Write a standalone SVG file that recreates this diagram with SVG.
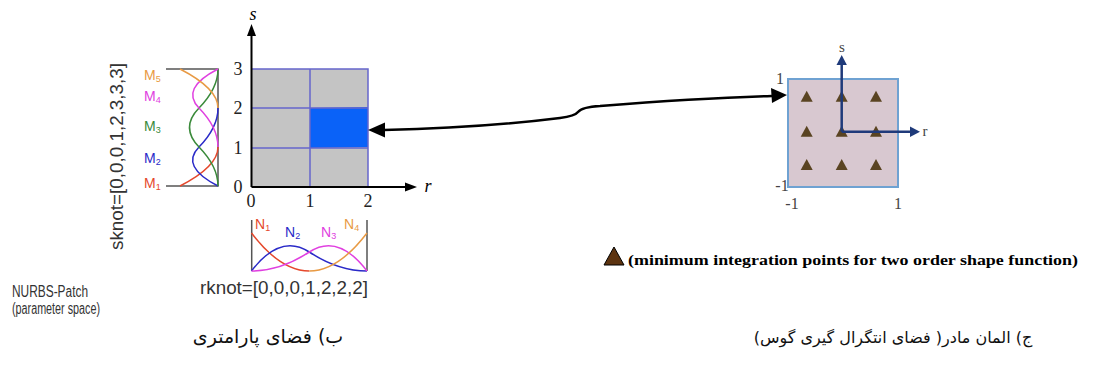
<svg xmlns="http://www.w3.org/2000/svg" width="1102" height="369" viewBox="0 0 1102 369">
<style>
.serif{font-family:"Liberation Serif","Times New Roman",serif}
.sans{font-family:"Liberation Sans",Arial,sans-serif}
.ar{font-family:"DejaVu Sans","Noto Sans",sans-serif;fill:#111}
.tick{font-size:18px;fill:#222}
.gl{stroke:#6666cc;stroke-width:1.5;fill:none}
.bx{stroke:#555;stroke-width:1.5;fill:none}
.cv{fill:none;stroke-width:1.5}
.tri{fill:#5a4422}
.pel{font-size:16px;fill:#444}
.ax2{stroke:#1f3a7a;stroke-width:2.5;fill:none}
</style>
<rect width="1102" height="369" fill="#fff"/>

<g id="patch">
<rect x="251" y="69" width="117" height="118" fill="#c4c4c4"/>
<path d="M310,108 L368,107 L368,147 L310,148 Z" fill="#0a62f8"/>
<path class="gl" d="M251,69 H368 V187 M310,69 V187 M251,108 H368 M251,148 H368"/>
<path d="M251.5,187 V33 M251.5,187 H408" stroke="#000" stroke-width="2" fill="none"/>
<polygon points="251.5,24 247,36 256,36" fill="#000"/>
<polygon points="417,187 405,182.5 405,191.5" fill="#000"/>
<text class="serif" x="253" y="20" font-size="18" font-style="italic" text-anchor="middle">s</text>
<text class="serif" x="428" y="192" font-size="18" font-style="italic" text-anchor="middle">r</text>
<g class="serif tick" text-anchor="middle">
<text x="238" y="75">3</text>
<text x="238" y="114">2</text>
<text x="238" y="154">1</text>
<text x="238" y="193">0</text>
<text x="251" y="207">0</text>
<text x="310" y="207">1</text>
<text x="368" y="207">2</text>
</g>
</g>

<g id="m-basis">
<path class="bx" d="M166,69 H218 V186 H166"/>
<path class="cv" stroke="#e5482c" d="M180,186 Q218,166.5 218,147"/>
<path class="cv" stroke="#2a2ac8" d="M218,186 Q180,166.5 199,147 Q218,127.5 218,108"/>
<path class="cv" stroke="#3a8a3a" d="M218,186 Q218,166.5 199,147 Q180,127.5 199,108 Q218,88.5 218,69"/>
<path class="cv" stroke="#e040e0" d="M218,147 Q218,127.5 199,108 Q180,88.5 218,69"/>
<path class="cv" stroke="#e89a44" d="M218,108 Q218,88.5 180,69"/>
<g class="sans" font-size="14">
<text x="144" y="80" fill="#e89a44">M<tspan font-size="9" dy="2">5</tspan></text>
<text x="144" y="101" fill="#e040e0">M<tspan font-size="9" dy="2">4</tspan></text>
<text x="144" y="131" fill="#3a8a3a">M<tspan font-size="9" dy="2">3</tspan></text>
<text x="144" y="163" fill="#2a2ac8">M<tspan font-size="9" dy="2">2</tspan></text>
<text x="144" y="188" fill="#e5482c">M<tspan font-size="9" dy="2">1</tspan></text>
</g>
<text class="sans" transform="translate(123,250) rotate(-90)" font-size="18" fill="#333" textLength="187" lengthAdjust="spacingAndGlyphs">sknot=[0,0,0,1,2,3,3,3]</text>
</g>

<g id="n-basis">
<path class="bx" d="M251.7,220 V271 M367,220 V271"/>
<path class="cv" stroke="#e5482c" d="M251.5,233 Q280.4,271 309.3,271"/>
<path class="cv" stroke="#2a2ac8" d="M251.5,271 Q280.4,233 309.3,252 Q338.1,271 367,271"/>
<path class="cv" stroke="#e040e0" d="M251.5,271 Q280.4,271 309.3,252 Q338.1,233 367,271"/>
<path class="cv" stroke="#e89a44" d="M309.3,271 Q338.1,271 367,233"/>
<g class="sans" font-size="14">
<text x="255" y="229" fill="#e5482c">N<tspan font-size="9" dy="2">1</tspan></text>
<text x="285" y="237" fill="#2a2ac8">N<tspan font-size="9" dy="2">2</tspan></text>
<text x="321" y="237" fill="#e040e0">N<tspan font-size="9" dy="2">3</tspan></text>
<text x="344" y="229" fill="#e89a44">N<tspan font-size="9" dy="2">4</tspan></text>
</g>
<text class="sans" x="200" y="294" font-size="18" fill="#333" textLength="168" lengthAdjust="spacingAndGlyphs">rknot=[0,0,0,1,2,2,2]</text>
</g>

<g id="nurbs-label" class="sans" font-size="16" fill="#333">
<text x="12" y="297" textLength="76" lengthAdjust="spacingAndGlyphs">NURBS-Patch</text>
<text x="12" y="314" textLength="88" lengthAdjust="spacingAndGlyphs">(parameter space)</text>
</g>

<g id="parent-element">
<rect x="788" y="79" width="110" height="108" fill="#d8c8d0" stroke="#6fa2d2" stroke-width="2"/>
<g class="tri">
<polygon points="806.7,90.7 800.7,101.7 812.7,101.7"/>
<polygon points="841.7,90.7 835.7,101.7 847.7,101.7"/>
<polygon points="876,90.7 870,101.7 882,101.7"/>
<polygon points="806.7,125.7 800.7,136.7 812.7,136.7"/>
<polygon points="841.7,125.7 835.7,136.7 847.7,136.7"/>
<polygon points="876,125.7 870,136.7 882,136.7"/>
<polygon points="806.7,159 800.7,170 812.7,170"/>
<polygon points="841.7,159 835.7,170 847.7,170"/>
<polygon points="876,159 870,170 882,170"/>
</g>
<path class="ax2" d="M841.7,131.7 V63 M841.7,131.7 H912"/>
<polygon points="841.7,55 836.5,65 846.9,65" fill="#1f3a7a"/>
<polygon points="920,131.7 910,126.5 910,136.9" fill="#1f3a7a"/>
<g class="serif pel" text-anchor="middle">
<text x="842" y="52" font-size="15">s</text>
<text x="925" y="136" font-size="15">r</text>
<text x="780" y="84">1</text>
<text x="782" y="191">-1</text>
<text x="792" y="209">-1</text>
<text x="898" y="209">1</text>
</g>
</g>

<g id="legend">
<polygon points="614,247 604,265 624,265" fill="#5c3310" stroke="#000" stroke-width="1"/>
<text class="serif" x="628" y="265" font-size="14" font-weight="bold" fill="#000" textLength="450" lengthAdjust="spacingAndGlyphs">(minimum integration points for two order shape function)</text>
</g>

<g id="connectors">
<path d="M384,130 Q480,128 560,118 Q575,116 578,112 Q582,107 600,106 Q700,98 772,96" fill="none" stroke="#000" stroke-width="2.5"/>
<polygon points="368,130 385,122.5 385,137.5" fill="#000"/>
<polygon points="787,95 771,88 772,103" fill="#000"/>
</g>

<g id="captions">
<text class="ar" x="268" y="343" font-size="19" direction="rtl" text-anchor="middle">ب) فضای پارامتری</text>
<text class="ar" x="893" y="343" font-size="16" direction="rtl" text-anchor="middle">ج) المان مادر( فضای انتگرال گیری گوس)</text>
</g>
</svg>
